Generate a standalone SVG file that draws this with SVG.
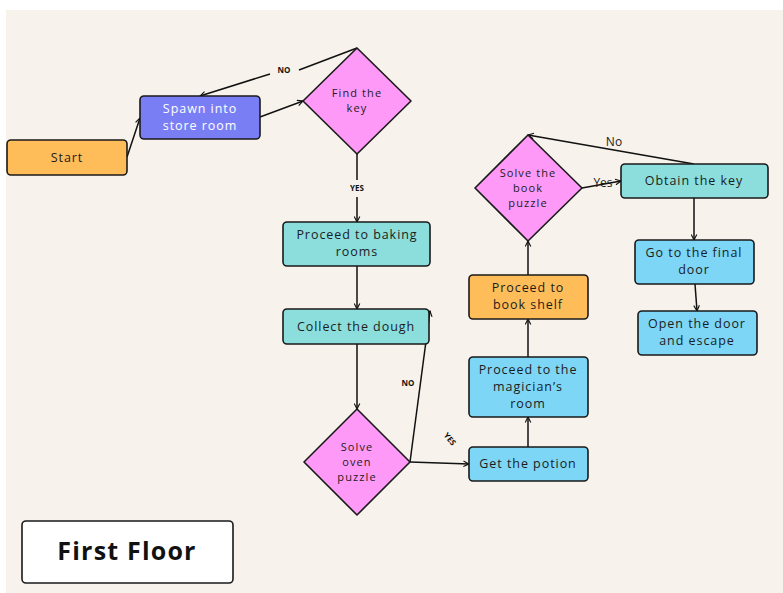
<svg xmlns="http://www.w3.org/2000/svg" width="783" height="593" viewBox="0 0 783 593">
<defs>
<marker id="ah" viewBox="0 0 10 10" refX="9" refY="5" markerWidth="7" markerHeight="7" orient="auto-start-reverse" markerUnits="userSpaceOnUse">
<path d="M1,1 L9,5 L1,9" fill="none" stroke="#111" stroke-width="1.6"/>
</marker>
<style>
.n{stroke:#1a1a1a;stroke-width:1.6}
.orange{fill:#FFBD59}
.purple{fill:#7A7EF5}
.pink{fill:#FF99F8}
.teal{fill:#8BDEDC}
.blue{fill:#7DD6F6}
.t{font-family:"Open Sans","DejaVu Sans",sans-serif;font-size:12.5px;fill:#1c1c1c;text-anchor:middle;letter-spacing:0.95px}
.d{font-size:11px;letter-spacing:1.1px}
.w{fill:#ffffff}
.lbl{font-family:"Open Sans","DejaVu Sans",sans-serif;font-size:8px;font-weight:bold;fill:#111;text-anchor:middle}
.lbl2{font-family:"Open Sans","DejaVu Sans",sans-serif;font-size:12px;fill:#1c1c1c;text-anchor:middle}
.c{fill:none;stroke:#111;stroke-width:1.5;marker-end:url(#ah)}
.cl{fill:none;stroke:#111;stroke-width:1.5}
</style>
</defs>
<rect x="6" y="10" width="777" height="583" fill="#F7F2EB"/>

<g id="connectors">
<path class="c" d="M127,157 L140,118"/>
<path class="c" d="M260,117 L303,101"/>
<path class="cl" d="M357,48 L299,70"/>
<path class="c" d="M270,74 L200,96"/>
<text class="lbl" x="284" y="73">NO</text>
<path class="cl" d="M357,154 L357,180"/>
<path class="c" d="M357,197 L357,222"/>
<text class="lbl" x="357" y="191">YES</text>
<path class="c" d="M357,266 L357,309"/>
<path class="c" d="M357,344 L357,409"/>
<path class="c" d="M410,462 L430,311"/>
<text class="lbl" x="408" y="386">NO</text>
<path class="c" d="M410,462 L469,464"/>
<text class="lbl" transform="translate(450,439) rotate(50)" x="0" y="3">YES</text>
<path class="c" d="M528,447 L528,417"/>
<path class="c" d="M528,357 L528,319"/>
<path class="c" d="M528,275 L528,241"/>
<path class="c" d="M582,188 L621,181"/>
<text class="lbl2" x="603" y="187">Yes</text>
<path class="c" d="M694,164 L528,135"/>
<text class="lbl2" x="614" y="146">No</text>
<path class="c" d="M694,198 L694,240"/>
<path class="c" d="M695,284 L697,311"/>
</g>

<g id="start">
<rect class="n orange" x="7" y="140" width="120" height="35" rx="4"/>
<text class="t" x="67" y="162">Start</text>
</g>
<g id="spawn">
<rect class="n purple" x="140" y="96" width="120" height="43" rx="4"/>
<text class="t w" x="200" y="113">Spawn into</text>
<text class="t w" x="200" y="130">store room</text>
</g>
<g id="find-key">
<path class="n pink" d="M357,48 L411,101 L357,154 L303,101 Z" stroke-linejoin="round"/>
<text class="t d" x="357" y="97">Find the</text>
<text class="t d" x="357" y="112">key</text>
</g>
<g id="baking">
<rect class="n teal" x="283" y="222" width="147" height="44" rx="4"/>
<text class="t" x="357" y="239">Proceed to baking</text>
<text class="t" x="357" y="256">rooms</text>
</g>
<g id="dough">
<rect class="n teal" x="283" y="309" width="146" height="35" rx="4"/>
<text class="t" x="356" y="331">Collect the dough</text>
</g>
<g id="oven">
<path class="n pink" d="M357,409 L410,462 L357,515 L304,462 Z" stroke-linejoin="round"/>
<text class="t d" x="357" y="451">Solve</text>
<text class="t d" x="357" y="466">oven</text>
<text class="t d" x="357" y="481">puzzle</text>
</g>
<g id="potion">
<rect class="n blue" x="469" y="447" width="119" height="34" rx="4"/>
<text class="t" x="528" y="468">Get the potion</text>
</g>
<g id="magician">
<rect class="n blue" x="469" y="357" width="119" height="60" rx="4"/>
<text class="t" x="528" y="374">Proceed to the</text>
<text class="t" x="528" y="391">magician’s</text>
<text class="t" x="528" y="408">room</text>
</g>
<g id="bookshelf">
<rect class="n orange" x="469" y="275" width="119" height="44" rx="4"/>
<text class="t" x="528" y="292">Proceed to</text>
<text class="t" x="528" y="309">book shelf</text>
</g>
<g id="book-puzzle">
<path class="n pink" d="M528,135 L582,188 L528,241 L475,188 Z" stroke-linejoin="round"/>
<text class="t d" x="528" y="177">Solve the</text>
<text class="t d" x="528" y="192">book</text>
<text class="t d" x="528" y="207">puzzle</text>
</g>
<g id="obtain-key">
<rect class="n teal" x="621" y="164" width="147" height="34" rx="4"/>
<text class="t" x="694" y="185">Obtain the key</text>
</g>
<g id="final-door">
<rect class="n blue" x="635" y="240" width="119" height="44" rx="4"/>
<text class="t" x="694" y="257">Go to the final</text>
<text class="t" x="694" y="274">door</text>
</g>
<g id="escape">
<rect class="n blue" x="638" y="311" width="119" height="44" rx="4"/>
<text class="t" x="697" y="328">Open the door</text>
<text class="t" x="697" y="345">and escape</text>
</g>
<g id="title">
<rect x="22" y="521" width="211" height="62" rx="4" fill="#ffffff" stroke="#1a1a1a" stroke-width="1.6"/>
<text x="127" y="560" font-family="'Open Sans','DejaVu Sans',sans-serif" font-size="25" font-weight="bold" fill="#111" text-anchor="middle" letter-spacing="1.2">First Floor</text>
</g>
</svg>
